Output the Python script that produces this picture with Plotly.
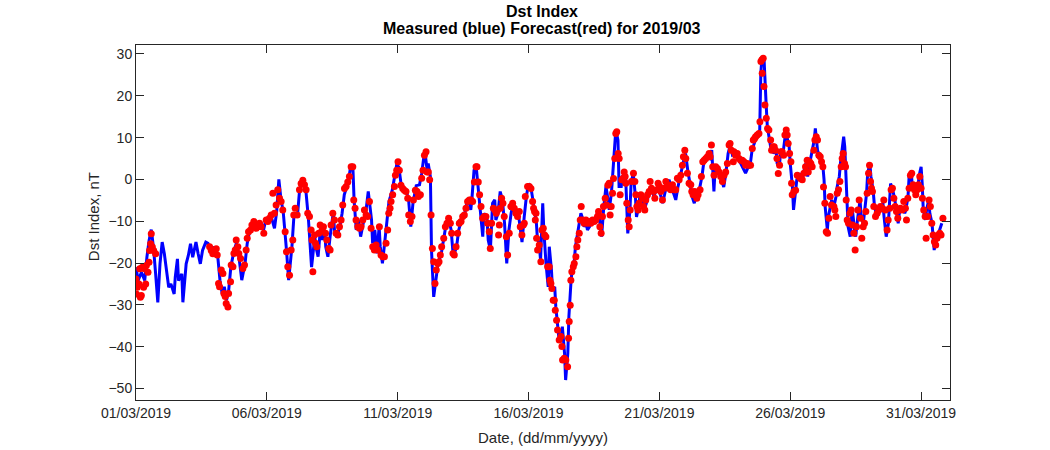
import pandas as pd
import plotly.graph_objects as go

# ---- data (hours since 2019-03-01 00:00, Dst in nT) ----
START = "2019-03-01 00:00"

measured_hours = [
    0, 2, 5, 8, 10, 12, 14, 16, 18, 20, 22, 24, 26, 28, 30, 32, 35, 36, 38, 39,
    42, 43, 46, 48, 50, 52, 54, 55, 57, 59, 61, 64, 66, 69, 72, 75, 77, 79, 81, 83,
    85, 87, 90, 92, 94, 97, 100, 102, 104, 109, 112, 115, 117, 119, 124, 127, 129, 131, 133, 135,
    138, 140, 143, 145, 148, 150, 153, 156, 158, 161, 164, 165, 167, 169, 171, 173, 174, 176, 178, 181,
    182, 184, 187, 189, 191, 193, 195, 197, 199, 200, 202, 204, 206, 209, 211, 213, 216, 217, 219, 221,
    223, 224, 226, 228, 230, 232, 235, 237, 239, 241, 243, 246, 248, 250, 252, 254, 257, 260, 262, 264,
    265, 267, 268, 270, 271, 273, 275, 277, 280, 282, 284, 287, 289, 291, 294, 296, 298, 301, 303, 305,
    307, 308, 310, 312, 313, 315, 316, 318, 319, 322, 323, 325, 327, 329, 330, 332, 334, 336, 338, 340,
    342, 344, 346, 348, 351, 352, 353, 354, 356, 358, 360, 362, 364, 365, 367, 368, 370, 371, 373, 374,
    376, 378, 379, 381, 382, 384, 385, 387, 388, 390, 391, 393, 394, 396, 397, 399, 400, 402, 403, 405,
    407, 408, 410, 411, 413, 414, 416, 417, 419, 422, 424, 426, 427, 429, 431, 432, 434, 436, 437, 439,
    440, 442, 443, 445, 446, 449, 450, 451, 453, 454, 456, 458, 459, 461, 462, 465, 466, 469, 471, 472,
    475, 477, 479, 481, 483, 485, 487, 489, 490, 493, 495, 497, 499, 501, 503, 504, 506, 507, 509, 510,
    512, 514, 516, 519, 521, 523, 526, 528, 530, 531, 533, 535, 537, 539, 541, 543, 545, 547, 550, 553,
    556, 559, 561, 563, 565, 568, 570, 572, 573, 574, 576, 577, 578, 579, 580, 582, 584, 585, 587, 588,
    590, 591, 593, 594, 596, 597, 599, 600, 602, 603, 605, 606, 608, 609, 611, 613, 614, 616, 617, 619,
    620, 622, 623, 624, 625, 627, 629, 630, 631, 632, 634, 635, 637, 638, 640, 642, 643, 645, 646, 648,
    649, 650, 651, 652, 653, 655, 656, 657, 659, 660, 662, 664, 665, 667, 668, 670, 671, 673, 674, 676,
    677, 679, 680, 682, 683, 685, 686, 688, 690, 691, 692, 694, 696, 697, 699, 700, 702, 703, 705, 706,
    708, 709, 711, 712, 714, 715, 717, 718, 720, 721, 722, 724, 725, 727, 728, 730, 732, 733, 735, 736,
    738, 739,
]
measured_dst = [
    -21, -24.2, -22.2, -24.2, -18.6, -14.6, -12, -16.2, -22.6, -29.4, -20.2, -15, -17.8, -21.8, -25.8, -25, -27.4, -23.4, -19, -24.2,
    -22.6, -29.4, -20.2, -18.2, -15.4, -18.6, -16.2, -15, -17.8, -20.2, -17, -15, -15.3, -17.3, -16.1, -18.5, -24.1, -27.3, -25.7, -28.9,
    -26.5, -20.9, -16.9, -15.3, -17.7, -24.1, -20.1, -15.3, -12.5, -10.5, -11.7, -10.9, -12.1, -9.7, -8.9, -11.7, -7.7, 0, -4.9, -7.7,
    -16.9, -24.1, -16.1, -8.1, -8.9, -2.6, 0.2, -3.3, -9, -21, -13.7, -16.1, -18.5, -12.1, -14.5, -12.1, -16.1, -18.5, -13.7, -7.7,
    -12.1, -13.7, -11.3, -8.1, -3.7, -1.7, -0.1, 3.4, 2.2, -4.9, -12.1, -9.7, -13.7, -9.7, -7.3, -2.9, -9.7, -15.3, -12.1, -17.7,
    -11.3, -16.1, -20.1, -15.3, -9.7, -5.3, -2.6, 0.7, 3.4, 3, -0.9, -2.2, -2.9, -4.9, -11.3, -5.7, -1.5, -1.3, 1.4, 5.4,
    6.6, 2.2, 3.8, 0.6, -16.9, -28.1, -24.1, -20.1, -17.7, -14.5, -11.3, -9.7, -12.1, -18.5, -16.1, -12.1, -10.1, -8.9, -6.1, -4.9,
    -7.3, -4.9, 2.2, 3, -0.1, -4.9, -7.3, -13.7, -8.1, -9.7, -14.5, -16.9, -5.7, -4.9, -9.7, -8.1, -2.9, -4.9, -10.5, -20.1,
    -12.1, -8.1, -5.7, -7.3, -8.9, -11.3, -14, -15, -9, -4.1, -1, -1.7, -4.9, -7.3, -9.7, -13.7, -16.1, -19.3, -5.7, -12.1,
    -20.1, -25.7, -16.1, -21.7, -26.5, -25.7, -30.5, -35.2, -38.4, -37.6, -35.2, -41.6, -48, -41.6, -32.8, -24.1, -21.7, -19.3, -16.1, -12.9,
    -9.7, -8.1, -9.7, -11.3, -10.5, -12.1, -11.3, -10.5, -9.7, -8.9, -7.3, -12.1, -13.7, -6.5, -1.7, -3.3, -7.3, -3.3, 0.2, 7.8,
    11.8, 9.4, -1.7, -1.7, 0.7, 1, -5, -12.9, -7.3, -1, 1.5, -4.1, -9, -6.5, -4.1, -5.7, -7.3, -4.9, -2.6, -1.8,
    -4.1, -2.6, -1.8, -4.1, -5.7, -3.3, -0.9, -0.1, -1.8, -3.3, -4.9, -1.8, 0.3, 3, 5.4, 6.2, 2.2, 0.7, -1.8, -4.1,
    -5.7, -3.3, -3.3, 0.7, 4.6, 5.4, 5, 7, -2.9, 2.2, 3, 1.5, -0.1, -1.8, 1.5, 6.2, 8.2, 5.8, 6.2, 4.6,
    3, 1.5, 2.7, 3, 7, 9.4, 10.2, 11.8, 25.4, 29, 28.6, 21.4, 17.4, 12.6, 11, 7.8, 7, 6.2, 7, 3.8,
    3, 6.2, 5.4, 7.8, 11.8, 10.2, 7.8, 3.8, -1.8, -7.3, -2.6, -0.1, 0.7, 1.5, -0.1, 2.2, 3.8, 0.7, 3, 5.4,
    7, 9.4, 12.2, 10.2, 7, 5.4, 4.6, 3, -0.1, -6.5, -12.1, -8.9, -6.5, -4.9, -6.5, -4.1, -1.8, 0.7, 3.8, 7.8,
    10.2, 7.8, 3, -4.9, -11.3, -13.7, -9.7, -7.3, -12.1, -13.7, -8.9, -4.9, -8.9, -10.5, -8.1, -3.3, 1.5, 3.8, 0.7, -2.6,
    -5.7, -8.9, -7.3, -6.5, -7.3, -5.7, -8.9, -13.7, -10.5, -5.7, -1, -2.6, -4.9, -7.3, -10.5, -8.1, -7.3, -6.5, -8.1, -7.3,
    -4.1, 0.7, 1.5, -1.8, -3.3, -1.8, -2.6, 0.7, 3, -1, -7.3, -9.7, -7.3, -4.9, -8.1, -10.5, -16.9, -15.3, -13.7, -12.9,
    -11.3, -10.5,
]

forecast_hours = [
    0.0, 0.3, 1.2, 2.7, 3.4, 4.0, 4.9, 5.8, 7.0, 7.9, 8.9, 9.5, 11.0, 11.9, 12.5, 13.4, 14.0, 15.0, 16.2, 18.0,
    67.5, 69.0, 70.5, 72.0, 73.6, 74.5, 75.7, 76.6, 78.2, 79.7, 80.6, 81.8, 82.7, 84.3, 84.9, 86.7, 87.3, 88.9, 89.8, 91.0,
    91.9, 93.4, 94.3, 95.9, 98.0, 99.5, 101.0, 102.0, 103.2, 105.0, 106.3, 108.1, 110.2, 111.7, 113.3, 114.8, 117.2, 119.4, 120.9, 122.4,
    124.0, 125.5, 127.0, 128.5, 130.0, 131.6, 133.1, 134.6, 136.8, 138.0, 139.2, 140.8, 142.3, 143.8, 144.7, 146.0, 147.8, 149.9, 151.4, 153.0,
    154.5, 156.0, 157.5, 159.1, 160.6, 161.5, 162.2, 163.7, 164.6, 165.8, 167.6, 168.9, 170.7, 171.9, 173.8, 175.0, 176.8, 178.0, 178.9, 180.5,
    182.0, 183.5, 185.1, 186.6, 188.1, 189.6, 191.2, 192.7, 194.2, 195.7, 197.3, 198.8, 199.7, 200.9, 201.8, 203.4, 204.9, 206.4, 208.0, 209.5,
    211.0, 212.5, 214.1, 215.6, 217.1, 218.6, 220.2, 221.7, 223.2, 224.7, 226.3, 227.8, 229.3, 230.8, 231.8, 233.0, 233.9, 235.4, 237.0, 237.9,
    239.1, 240.3, 241.5, 243.0, 244.6, 246.1, 247.6, 249.2, 250.1, 251.6, 253.1, 254.4, 256.2, 257.7, 259.0, 260.8, 262.0, 263.2, 264.5, 266.0,
    266.9, 268.1, 269.3, 270.6, 271.8, 273.0, 274.2, 275.4, 276.7, 277.9, 279.1, 280.3, 282.2, 283.7, 285.2, 286.7, 288.3, 289.5, 290.7, 291.9,
    293.5, 295.0, 296.5, 298.1, 299.6, 301.1, 302.6, 304.1, 305.7, 307.2, 308.7, 310.3, 311.8, 312.7, 313.9, 315.1, 316.4, 317.9, 319.4, 320.9,
    322.5, 324.0, 324.9, 326.1, 327.7, 329.2, 330.4, 331.6, 332.5, 333.2, 334.1, 335.3, 336.5, 337.7, 339.6, 340.8, 342.3, 343.8, 345.4, 346.9,
    348.4, 349.9, 351.5, 352.4, 353.9, 355.2, 356.1, 357.0, 359.1, 360.7, 362.2, 363.7, 364.6, 365.5, 366.2, 366.8, 367.4, 368.3, 369.8, 371.3,
    372.3, 373.5, 374.7, 375.9, 377.5, 379.0, 379.6, 380.5, 381.4, 382.6, 383.6, 384.5, 385.7, 386.6, 388.1, 389.7, 390.6, 391.2, 392.7, 394.2,
    395.8, 396.7, 397.3, 398.2, 398.8, 399.7, 401.0, 401.9, 403.4, 404.3, 405.2, 406.5, 407.4, 408.3, 409.5, 411.0, 412.6, 414.1, 415.6, 417.1,
    418.7, 420.2, 421.7, 423.2, 424.2, 425.4, 426.6, 427.8, 428.7, 430.3, 431.5, 432.7, 433.9, 434.8, 435.8, 437.0, 437.9, 439.1, 440.0, 440.9,
    442.2, 443.1, 444.0, 445.5, 446.8, 447.7, 448.6, 449.2, 450.1, 451.4, 452.3, 453.2, 454.4, 456.2, 457.5, 458.4, 459.3, 460.5, 461.4, 463.0,
    464.5, 465.4, 466.6, 467.5, 469.1, 470.6, 471.5, 472.7, 474.6, 475.8, 477.6, 478.8, 480.1, 481.3, 482.8, 484.3, 485.9, 487.4, 488.9, 490.4,
    492.0, 493.5, 495.0, 496.5, 498.1, 499.6, 501.1, 502.0, 503.3, 504.2, 505.7, 507.2, 508.8, 509.7, 510.9, 512.4, 514.3, 515.5, 517.3, 518.5,
    519.8, 521.0, 522.5, 524.0, 525.6, 526.5, 527.7, 528.9, 530.1, 531.7, 533.2, 534.7, 536.2, 537.8, 539.3, 540.8, 542.3, 543.9, 544.8, 546.0,
    547.8, 548.4, 549.9, 551.4, 553.0, 554.5, 556.0, 557.5, 559.1, 560.6, 562.1, 563.6, 565.2, 566.1, 567.3, 568.2, 569.7, 571.3, 572.2, 573.1,
    574.0, 574.3, 575.2, 575.9, 576.8, 578.0, 579.2, 580.4, 582.0, 582.9, 584.1, 585.3, 586.5, 587.8, 589.0, 590.2, 591.4, 592.6, 593.9, 595.1,
    596.3, 597.2, 598.1, 599.4, 600.6, 601.2, 601.8, 603.3, 604.9, 606.4, 607.9, 609.4, 611.0, 612.5, 614.0, 615.5, 616.5, 617.7, 618.9, 620.1,
    621.7, 622.6, 623.8, 625.0, 626.2, 627.5, 628.7, 629.9, 630.5, 631.7, 633.0, 634.2, 635.4, 636.6, 637.8, 640.0, 640.9, 641.8, 643.1, 644.3,
    645.5, 646.7, 647.6, 648.5, 649.8, 650.7, 651.3, 652.2, 653.4, 654.7, 655.9, 657.1, 658.3, 659.5, 660.8, 662.0, 663.2, 664.4, 665.6, 666.9,
    668.1, 669.3, 670.5, 671.8, 672.7, 673.6, 674.5, 675.4, 676.6, 678.2, 679.7, 681.2, 682.7, 684.3, 685.8, 687.3, 688.8, 689.8, 691.3, 692.5,
    693.7, 695.0, 696.2, 697.4, 698.6, 699.8, 701.1, 702.6, 704.1, 705.6, 706.6, 707.8, 709.0, 710.2, 711.4, 712.7, 713.9, 715.1, 716.3, 717.5,
    718.8, 720.0, 721.2, 722.4, 723.7, 724.6, 726.1, 727.3, 728.5, 729.8, 731.0, 732.2, 733.4, 734.6, 735.9, 737.1, 738.3, 740.0,
]
forecast_dst = [
    -23.8, -27.4, -25.8, -25.0, -21.4, -28.2, -27.8, -21.0, -25.8, -21.4, -25.0, -20.6, -22.2, -19.8, -17.0, -15.4, -13.0, -16.2, -17.0, -17.8,
    -16.1, -17.0, -17.8, -16.9, -16.6, -18.1, -24.9, -25.7, -21.7, -22.5, -27.3, -28.0, -29.7, -30.5, -27.3, -24.5, -20.5, -20.9, -17.7, -16.9,
    -14.5, -16.1, -17.7, -18.9, -21.3, -20.5, -16.9, -14.1, -12.5, -12.1, -10.9, -10.1, -11.7, -11.3, -10.5, -11.3, -12.9, -9.7, -10.1, -9.3,
    -8.5, -3.3, -8.1, -6.1, -2.5, -4.5, -5.3, -7.3, -12.5, -17.3, -20.9, -22.9, -16.9, -14.5, -8.5, -6.9, -8.5, -2.5, -1.0, -0.2,
    -1.3, -2.5, -8.1, -8.9, -12.1, -14.5, -22.1, -13.3, -15.3, -16.1, -12.9, -10.9, -12.1, -11.3, -12.9, -14.5, -16.5, -16.9, -10.9, -8.1,
    -9.7, -12.9, -13.3, -11.3, -9.7, -6.1, -2.2, -1.7, -0.6, 0.7, 3.0, 3.0, -4.9, -6.9, -9.7, -11.3, -11.7, -11.3, -9.7, -7.3,
    -8.5, -8.9, -5.3, -11.7, -16.1, -16.9, -15.7, -16.9, -11.3, -18.1, -18.5, -18.5, -15.3, -12.1, -8.1, -6.9, -5.3, -3.7, -1.7, 1.0,
    2.2, 4.2, 2.2, -1.4, -2.2, -2.6, -2.9, -4.5, -8.5, -10.1, -8.9, -4.9, -2.6, -2.9, -4.1, -3.7, 0.3, 2.2, 5.8, 6.6,
    1.8, 1.8, -0.1, -8.5, -16.5, -19.7, -24.9, -21.7, -20.1, -19.7, -18.1, -16.1, -14.1, -11.3, -10.5, -9.3, -10.5, -12.9, -17.7, -18.1,
    -16.1, -12.9, -10.5, -10.1, -8.9, -8.5, -6.9, -5.3, -4.9, -4.9, -5.3, -0.6, 3.0, 3.0, -0.6, -3.7, -6.5, -9.3, -8.9, -8.9,
    -10.5, -12.5, -16.5, -10.5, -6.9, -7.3, -8.1, -7.3, -13.3, -10.9, -6.9, -4.5, -5.7, -8.9, -13.7, -18.1, -12.9, -6.5, -5.7, -6.9,
    -8.1, -8.9, -7.7, -11.3, -13.3, -10.9, -10.5, -4.1, -1.7, -1.7, -2.2, -5.3, -6.9, -7.7, -9.7, -8.1, -14.1, -16.9, -15.7, -19.7,
    -12.1, -11.7, -13.3, -13.7, -20.9, -20.9, -24.1, -24.9, -26.1, -28.9, -28.9, -31.3, -33.7, -36.0, -38.4, -37.6, -40.0, -43.2, -42.8, -43.2,
    -44.8, -38.0, -34.0, -30.1, -24.1, -22.1, -20.9, -20.1, -18.5, -16.1, -14.5, -12.9, -9.7, -6.5, -9.7, -10.5, -9.7, -10.5, -10.1, -10.5,
    -9.7, -10.1, -9.7, -8.9, -7.7, -11.3, -12.9, -8.9, -6.5, -4.5, -6.1, -1.4, -0.9, -8.5, -6.5, -3.3, 0.2, 5.0, 11.0, 11.4,
    6.2, 5.0, -3.7, -0.1, 0.3, 1.8, 0.7, -0.9, -5.7, -9.7, -11.3, -7.3, -0.5, 1.5, -0.5, -3.7, -6.5, -7.3, -5.7, -3.7,
    -4.5, -6.5, -7.3, -4.9, -3.7, -2.9, -0.5, -2.1, -2.9, -4.5, -2.5, -0.9, -1.7, -2.9, -4.9, -2.1, -0.5, -1.3, -2.1, -2.5,
    -1.3, -2.5, -2.5, 0.3, -0.1, 1.0, 3.4, 5.4, 7.0, 5.0, 1.5, -0.9, -1.3, -2.9, -3.7, -2.9, -4.5, -3.7, -2.5, 0.7,
    4.2, 4.6, 5.0, 5.4, 6.2, 5.4, 8.2, 3.0, 1.0, 3.0, 2.6, 1.8, 0.7, -0.5, 1.0, 1.8, 3.8, 8.2, 8.6, 7.0,
    4.2, 6.6, 5.8, 6.2, 5.0, 4.6, 4.6, 4.2, 3.4, 3.8, 3.4, 3.4, 7.4, 9.4, 9.8, 10.2, 10.6, 11.0, 13.8, 28.2,
    28.6, 25.4, 29.0, 22.2, 17.8, 14.6, 12.2, 11.8, 9.4, 7.0, 7.8, 7.8, 7.0, 5.0, 1.4, 3.4, 6.6, 6.6, 5.8, 10.6,
    11.8, 10.6, 8.6, 6.2, 4.2, -0.9, -3.7, -2.9, -2.6, 1.0, 0.7, 0.2, -0.1, 1.5, 3.0, 4.6, 1.8, 4.2, 3.8, 3.0,
    7.0, 9.4, 10.2, 9.4, 5.8, 5.4, 4.2, 3.0, -1.8, -5.7, -12.5, -12.9, -9.3, -4.1, -6.1, -6.5, -7.3, -8.9, -3.3, -2.5,
    -0.5, 3.0, 5.0, 6.2, 3.8, 3.0, -4.9, -9.7, -10.5, -8.1, -7.3, -10.9, -12.9, -16.9, -11.3, -7.3, -4.9, -9.3, -14.1, -11.3,
    -10.5, -7.7, -3.3, 1.5, 3.4, -0.5, -2.1, -2.9, -6.5, -8.9, -8.1, -7.3, -6.5, -6.9, -4.9, -7.3, -12.1, -9.7, -6.9, -2.5,
    -2.1, -4.5, -6.5, -7.7, -9.3, -7.3, -6.9, -7.3, -5.3, -6.9, -9.7, -4.5, -2.1, 1.0, 1.5, -1.3, -2.5, -3.7, -2.5, -1.3,
    0.7, -2.1, -4.5, -7.3, -8.9, -14.1, -8.9, -4.9, -6.5, -10.5, -13.3, -14.9, -15.7, -14.1, -13.3, -12.9, -13.3, -9.3,
]

x_tick_dates = ["2019-03-01", "2019-03-06", "2019-03-11", "2019-03-16",
                "2019-03-21", "2019-03-26", "2019-03-31"]
y_tick_values = [-50, -40, -30, -20, -10, 0, 10, 20, 30]

title_line1 = "Dst Index"
title_line2 = "Measured (blue) Forecast(red) for 2019/03"
x_label = "Date, (dd/mm/yyyy)"
y_label = "Dst Index, nT"

# ---- build figure ----
t0 = pd.Timestamp(START)
meas_t = t0 + pd.to_timedelta(measured_hours, unit="h")
fc_t = t0 + pd.to_timedelta(forecast_hours, unit="h")

FONT = "Liberation Sans, Arial, Helvetica, sans-serif"
AXC = "#262626"
PLOT_H = 355.0
PLOT_W = 814.0

fig = go.Figure()
fig.add_trace(go.Scatter(x=meas_t, y=measured_dst, mode="lines",
                         line=dict(color="#0000ff", width=3), name="Measured",
                         showlegend=False))
fig.add_trace(go.Scatter(x=fc_t, y=forecast_dst, mode="markers",
                         marker=dict(color="#ff0000", size=7, line=dict(width=0)),
                         name="Forecast", showlegend=False))

x_end = t0 + pd.Timedelta(hours=746.5)

axis_common = dict(showline=True, linecolor=AXC, linewidth=1, mirror="ticks",
                   ticks="inside", tickcolor=AXC, ticklen=8, tickwidth=1,
                   showgrid=False, zeroline=False,
                   tickfont=dict(family=FONT, size=14, color=AXC))

fig.update_layout(
    width=1050, height=450,
    margin=dict(l=136, r=100, t=45, b=50),
    paper_bgcolor="white", plot_bgcolor="white",
    xaxis=dict(range=[t0, x_end], tickvals=pd.to_datetime(x_tick_dates),
               tickformat="%d/%m/%Y", **axis_common),
    yaxis=dict(range=[-52.77, 32.15], tickvals=y_tick_values, **axis_common),
    annotations=[
        dict(text="<b>" + title_line1 + "</b>", xref="paper", yref="paper",
             x=0.4985, y=1 + 33 / PLOT_H, xanchor="center", yanchor="middle",
             showarrow=False, font=dict(family=FONT, size=16, color="black")),
        dict(text="<b>" + title_line2 + "</b>", xref="paper", yref="paper",
             x=0.4985, y=1 + 16.5 / PLOT_H, xanchor="center", yanchor="middle",
             showarrow=False, font=dict(family=FONT, size=16, color="black")),
        dict(text=x_label, xref="paper", yref="paper",
             x=0.5, y=-37 / PLOT_H, xanchor="center", yanchor="middle",
             showarrow=False, font=dict(family=FONT, size=15, color=AXC)),
        dict(text=y_label, xref="paper", yref="paper",
             x=-43 / PLOT_W, y=0.515, xanchor="center", yanchor="middle",
             textangle=-90, showarrow=False,
             font=dict(family=FONT, size=15, color=AXC)),
    ],
)

# remove the page's default 8px body margin so the figure sits at the window's corner
fig.write_html("out.html",
               config={"displayModeBar": False},
               post_script="document.body.style.margin='0px';")
